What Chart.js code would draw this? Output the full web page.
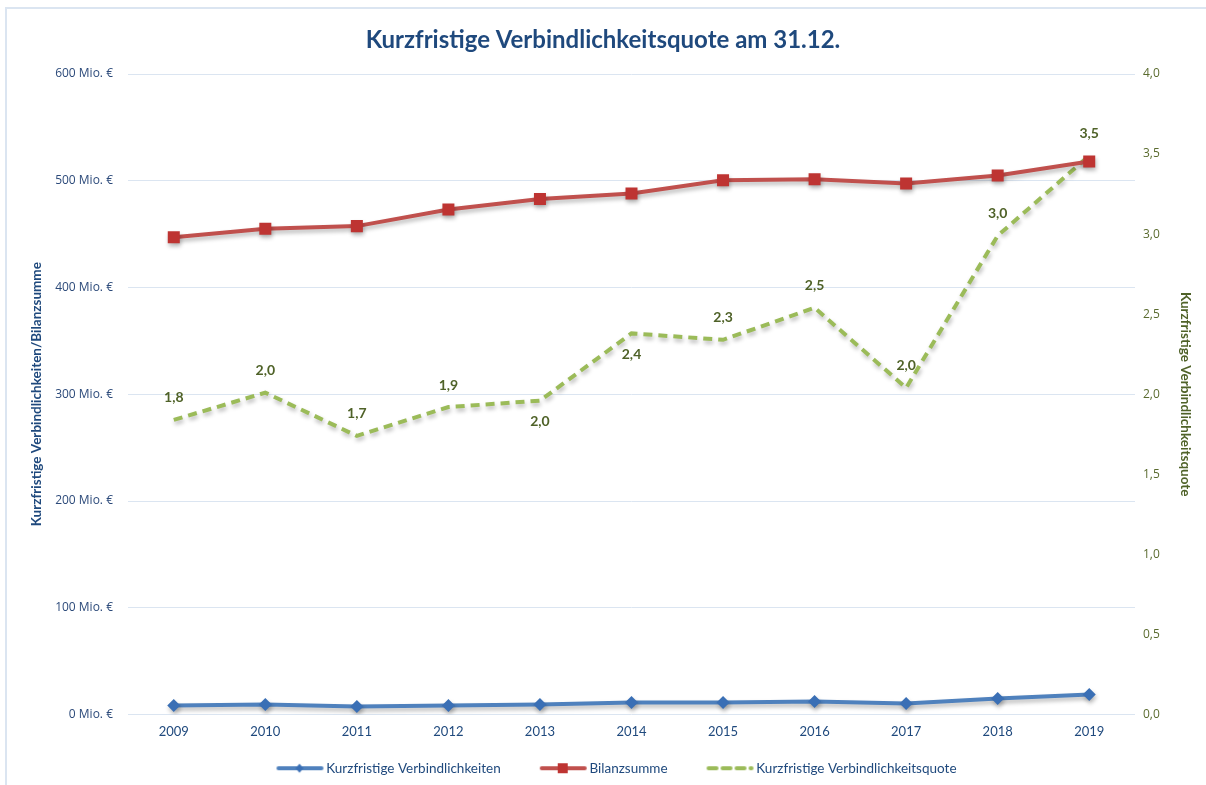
<!DOCTYPE html>
<html>
<head>
<meta charset="utf-8">
<script src="https://cdn.jsdelivr.net/npm/chart.js@4.4.0/dist/chart.umd.min.js"></script>
<style>
  body { margin: 0; background: #fff; }
  #wrap { position: relative; width: 1206px; height: 785px; }
</style>
</head>
<body>
<div id="wrap"><canvas id="myChart"></canvas></div>
<script>
// data
const years = ['2009','2010','2011','2012','2013','2014','2015','2016','2017','2018','2019'];
const kurzfristigeVerbindlichkeiten = [8.4, 9.4, 7.5, 8.4, 9.4, 11.3, 11.3, 12.2, 10.3, 15, 18.8];
const bilanzsumme = [447, 455, 457.5, 473, 483, 488, 500.5, 501.5, 497.5, 505, 518];
const quote = [1.84, 2.01, 1.74, 1.92, 1.96, 2.38, 2.34, 2.54, 2.04, 2.99, 3.49];
const quoteLabelBelow = [false, false, false, false, true, true, false, false, false, false, false];

const blue = '#4f81bd', red = '#c0504d', green = '#9bbb59';
const darkBlue = '#1f497d', olive = '#4f6228';
const narrow = 'Lato, "Open Sans", sans-serif';

// legend symbol: a short line with the marker in the middle,
// drawn on the right part of a wider canvas so items get some space between them
const legendIcon = (color, marker, dashed) => {
    const c = document.createElement('canvas');
    c.width = 80; c.height = 12;
    const g = c.getContext('2d');
    g.strokeStyle = color; g.lineWidth = 4; g.lineCap = 'round';
    if (dashed) g.setLineDash([8, 6]);
    g.beginPath(); g.moveTo(34, 6); g.lineTo(77, 6); g.stroke();
    if (marker) {
        g.fillStyle = marker;
        if (color === blue) {
            g.beginPath(); g.moveTo(55, 1.5); g.lineTo(59, 6); g.lineTo(55, 10.5); g.lineTo(51, 6); g.closePath(); g.fill();
        } else {
            g.fillRect(50, 1, 10, 10);
        }
    }
    return c;
};

const shadowPlugin = {
    id: 'shadow',
    beforeDatasetDraw(chart, args) {
        const ctx = chart.ctx;
        ctx.save();
        ctx.shadowColor = 'rgba(0,0,0,0.28)';
        ctx.shadowBlur = 4;
        ctx.shadowOffsetX = 1;
        ctx.shadowOffsetY = 3;
    },
    afterDatasetDraw(chart) {
        chart.ctx.restore();
    }
};

const quoteLabels = {
    id: 'quoteLabels',
    afterDatasetsDraw(chart) {
        const ctx = chart.ctx;
        const meta = chart.getDatasetMeta(2);
        ctx.save();
        ctx.font = 'bold 14px ' + narrow;
        ctx.fillStyle = olive;
        ctx.textAlign = 'center';
        ctx.textBaseline = 'middle';
        meta.data.forEach((pt, i) => {
            const txt = quote[i].toFixed(1).replace('.', ',');
            const dy = quoteLabelBelow[i] ? 21 : -22;
            ctx.fillText(txt, pt.x, pt.y + dy);
        });
        ctx.restore();
    }
};

const frame = {
    id: 'frame',
    beforeDraw(chart) {
        const ctx = chart.ctx;
        ctx.save();
        ctx.strokeStyle = '#dbe5f1';
        ctx.lineWidth = 2;
        ctx.beginPath();
        ctx.moveTo(6, 785); ctx.lineTo(6, 8); ctx.lineTo(1206, 8);
        ctx.stroke();
        ctx.restore();
    }
};

const ctx = document.getElementById('myChart').getContext('2d');
const myChart = new Chart(ctx, {
    type: 'line',
    data: {
        labels: years,
        datasets: [{
            label: 'Kurzfristige Verbindlichkeiten',
            data: kurzfristigeVerbindlichkeiten,
            yAxisID: 'y',
            borderColor: blue,
            backgroundColor: '#3a6fb5',
            borderWidth: 4,
            pointStyle: 'rectRot',
            pointRadius: 6.5,
            pointBorderWidth: 0,
            tension: 0
        }, {
            label: 'Bilanzsumme',
            data: bilanzsumme,
            yAxisID: 'y',
            borderColor: red,
            backgroundColor: '#be3432',
            borderWidth: 4,
            pointStyle: 'rect',
            pointRadius: 8.5,
            pointBorderWidth: 0,
            tension: 0
        }, {
            label: 'Kurzfristige Verbindlichkeitsquote',
            data: quote,
            yAxisID: 'y1',
            borderColor: green,
            backgroundColor: green,
            borderWidth: 4,
            borderDash: [9, 6],
            pointRadius: 0,
            tension: 0
        }]
    },
    options: {
        responsive: true,
        maintainAspectRatio: false,
        animation: false,
        layout: { padding: 0 },
        plugins: {
            title: {
                display: true,
                text: 'Kurzfristige Verbindlichkeitsquote am 31.12.',
                color: darkBlue,
                font: { family: narrow, size: 24, weight: 'bold', lineHeight: 1.2 },
                padding: { top: 26, bottom: 19.2 }
            },
            legend: {
                position: 'bottom',
                labels: {
                    usePointStyle: true,
                    pointStyleWidth: 70,
                    padding: 12,
                    color: darkBlue,
                    font: { family: narrow, size: 13.5 },
                    generateLabels: (chart) => [
                        { text: 'Kurzfristige Verbindlichkeiten', pointStyle: legendIcon(blue, '#3a6fb5', false), fontColor: darkBlue, lineWidth: 0, datasetIndex: 0 },
                        { text: 'Bilanzsumme', pointStyle: legendIcon(red, '#be3432', false), fontColor: darkBlue, lineWidth: 0, datasetIndex: 1 },
                        { text: 'Kurzfristige Verbindlichkeitsquote', pointStyle: legendIcon(green, null, true), fontColor: darkBlue, lineWidth: 0, datasetIndex: 2 }
                    ]
                }
            },
            tooltip: { enabled: false }
        },
        scales: {
            x: {
                offset: true,
                grid: { display: false, drawTicks: false },
                border: { display: false },
                ticks: { color: darkBlue, font: { family: narrow, size: 13 }, padding: 10, maxRotation: 0 },
                afterFit: (s) => { s.height = 35; }
            },
            y: {
                position: 'left',
                min: 0, max: 600,
                ticks: {
                    stepSize: 100,
                    padding: 15,
                    color: '#2c4a7a',
                    font: { family: '"Open Sans", sans-serif', size: 12 },
                    callback: (v) => v + ' Mio. €'
                },
                grid: { color: '#dbe5f1', lineWidth: 1, drawTicks: false },
                border: { display: false },
                title: {
                    display: true,
                    text: 'Kurzfristige Verbindlichkeiten/Bilanzsumme',
                    color: darkBlue,
                    font: { family: narrow, size: 13.5, weight: 'bold', lineHeight: 1.2 },
                    padding: { top: 29, bottom: 0 }
                },
                afterFit: (s) => { s.width = 128; }
            },
            y1: {
                position: 'right',
                min: 0, max: 4,
                ticks: {
                    stepSize: 0.5,
                    padding: 8,
                    color: '#5a6b2e',
                    font: { family: '"Open Sans", sans-serif', size: 12 },
                    callback: (v) => v.toFixed(1).replace('.', ',')
                },
                grid: { display: false, drawTicks: false },
                border: { display: false },
                title: {
                    display: true,
                    text: 'Kurzfristige Verbindlichkeitsquote',
                    color: olive,
                    font: { family: narrow, size: 13.5, weight: 'bold', lineHeight: 1.2 },
                    padding: { top: 13, bottom: 0 }
                },
                afterFit: (s) => { s.width = 71; }
            }
        }
    },
    plugins: [frame, shadowPlugin, quoteLabels]
});
</script>
</body>
</html>
